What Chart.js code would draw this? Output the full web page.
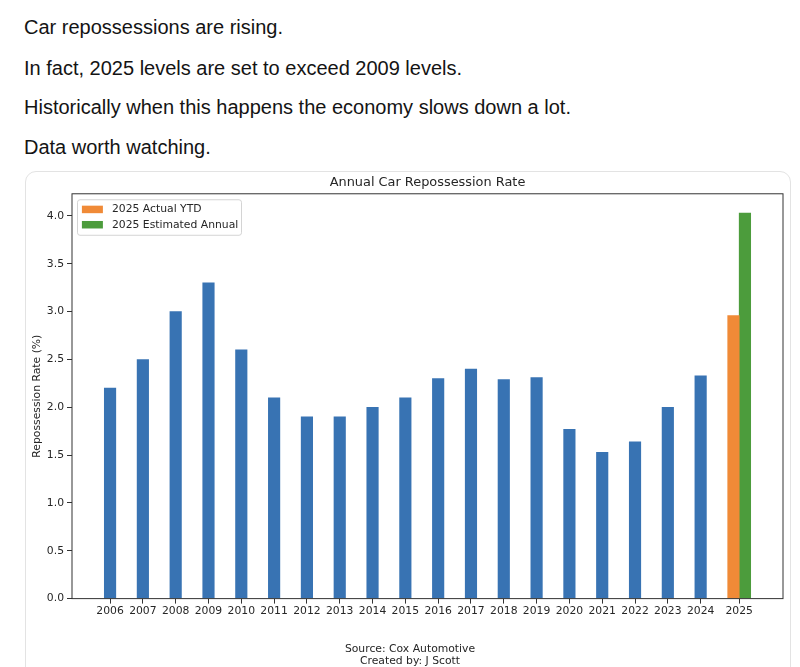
<!DOCTYPE html>
<html>
<head>
<meta charset="utf-8">
<title>Annual Car Repossession Rate</title>
<script src="https://cdn.jsdelivr.net/npm/chart.js@4.4.1/dist/chart.umd.min.js"></script>
<style>
html, body { margin: 0; padding: 0; background: #fff; overflow: hidden; }
body { width: 800px; height: 667px; position: relative; font-family: "Liberation Sans", Arial, sans-serif; color: #141414; }
.post p { position: absolute; left: 24px; margin: 0; font-size: 20px; line-height: 24px; white-space: nowrap; }
.card { position: absolute; left: 25px; top: 171px; width: 766px; height: 530px; border: 1px solid #e3e3e3; border-radius: 11px; box-sizing: border-box; }
#wrap { position: absolute; left: 26px; top: 172px; width: 763px; height: 495px; }
</style>
</head>
<body>
<div class="post">
  <p style="top:15px">Car repossessions are rising.</p>
  <p style="top:56px">In fact, 2025 levels are set to exceed 2009 levels.</p>
  <p style="top:95px">Historically when this happens the economy slows down a lot.</p>
  <p style="top:135px">Data worth watching.</p>
</div>
<div class="card"></div>
<div id="wrap"><canvas id="myChart"></canvas></div>

<script>
// data
const years = ['2006', '2007', '2008', '2009', '2010', '2011', '2012', '2013', '2014', '2015',
               '2016', '2017', '2018', '2019', '2020', '2021', '2022', '2023', '2024'];
const repoRate = [2.2, 2.5, 3.0, 3.3, 2.6, 2.1, 1.9, 1.9, 2.0, 2.1,
                  2.3, 2.4, 2.29, 2.31, 1.77, 1.53, 1.64, 2.0, 2.33];
const lastYear = '2025';
const ytd2025 = [2.96];
const est2025 = [4.03];
const yTicks = [0, 0.5, 1.0, 1.5, 2.0, 2.5, 3.0, 3.5, 4.0];

// bar width in x units (matplotlib style), 2025 pair sits side by side
const BAR_W = 0.35;
const n = years.length;
const xTickPos = years.map((y, i) => i).concat([n + BAR_W / 2]);
const xTickLabels = years.concat([lastYear]);

const FONT = "'DejaVu Sans', sans-serif";
const INK = '#262626';
const FS = 10.8;

// frame around the plot like matplotlib spines
const framePlugin = {
    id: 'frame',
    afterDraw(chart) {
        const {ctx, chartArea: a} = chart;
        ctx.save();
        ctx.strokeStyle = '#333';
        ctx.lineWidth = 1;
        ctx.strokeRect(a.left, a.top, a.right - a.left, a.bottom - a.top);
        ctx.restore();
    }
};

// upper-left legend box, only the 2025 series
const boxLegend = {
    id: 'boxLegend',
    afterDraw(chart) {
        const {ctx, chartArea: a} = chart;
        const items = chart.data.datasets.filter((d, i) => i > 0);
        const x = a.left + 5.5, y = a.top + 6;
        ctx.save();
        ctx.beginPath();
        ctx.roundRect(x, y, 164, 35.5, 2.5);
        ctx.fillStyle = 'rgba(255,255,255,0.85)';
        ctx.fill();
        ctx.strokeStyle = '#d4d4d4';
        ctx.lineWidth = 1;
        ctx.stroke();
        ctx.font = FS + 'px ' + FONT;
        ctx.textBaseline = 'middle';
        items.forEach((d, i) => {
            const cy = y + 9.7 + i * 15.3;
            ctx.fillStyle = d.backgroundColor;
            ctx.fillRect(x + 4.4, cy - 3.8, 21, 7.5);
            ctx.fillStyle = INK;
            ctx.fillText(d.label, x + 34.4, cy);
        });
        ctx.restore();
    }
};

const ctx = document.getElementById('myChart').getContext('2d');
const myChart = new Chart(ctx, {
    type: 'bar',
    data: {
        datasets: [{
            label: 'Annual',
            data: repoRate.map((v, i) => ({x: i, y: v})),
            backgroundColor: '#3873b3',
        }, {
            label: '2025 Actual YTD',
            data: ytd2025.map(v => ({x: n, y: v})),
            backgroundColor: '#f08a37',
        }, {
            label: '2025 Estimated Annual',
            data: est2025.map(v => ({x: n + BAR_W, y: v})),
            backgroundColor: '#4c9c3c',
        }]
    },
    options: {
        responsive: true,
        maintainAspectRatio: false,
        animation: false,
        datasets: {
            bar: { grouped: false, barThickness: 11.5, borderWidth: 0 }
        },
        layout: { padding: { left: 11, right: 6, top: 0, bottom: 0 } },
        scales: {
            x: {
                type: 'linear',
                min: -1.16,
                max: 20.51,
                offset: false,
                afterBuildTicks: (s) => { s.ticks = xTickPos.map(v => ({value: v})); },
                afterFit: (s) => { s.height = 44.2; },
                grid: { offset: false, drawOnChartArea: false, drawTicks: true, tickLength: 5, color: '#333' },
                border: { display: false },
                ticks: {
                    autoSkip: false,
                    maxRotation: 0,
                    padding: 1,
                    color: INK,
                    font: { family: FONT, size: FS },
                    callback: (v, i) => xTickLabels[i]
                }
            },
            y: {
                min: 0,
                max: 4.232,
                afterBuildTicks: (s) => { s.ticks = yTicks.map(v => ({value: v})); },
                afterFit: (s) => { s.width = 35; },
                grid: { drawOnChartArea: false, drawTicks: true, tickLength: 5, color: '#333' },
                border: { display: false },
                ticks: {
                    padding: 3,
                    color: INK,
                    font: { family: FONT, size: FS },
                    callback: (v) => Number(v).toFixed(1)
                },
                title: {
                    display: true,
                    text: 'Repossession Rate (%)',
                    color: INK,
                    font: { family: FONT, size: FS },
                    padding: { top: -6.5, bottom: 0 }
                }
            }
        },
        plugins: {
            legend: { display: false },
            tooltip: { enabled: false },
            title: {
                display: true,
                text: 'Annual Car Repossession Rate',
                fullSize: false,
                color: INK,
                font: { family: FONT, size: 12.9, weight: 'normal' },
                padding: { top: 3.3, bottom: 3 }
            },
            subtitle: {
                display: true,
                position: 'bottom',
                text: ['Source: Cox Automotive', 'Created by: J Scott'],
                color: INK,
                font: { family: FONT, size: FS, weight: 'normal', lineHeight: 1.12 },
                padding: 0
            }
        }
    },
    plugins: [framePlugin, boxLegend]
});
</script>
</body>
</html>
